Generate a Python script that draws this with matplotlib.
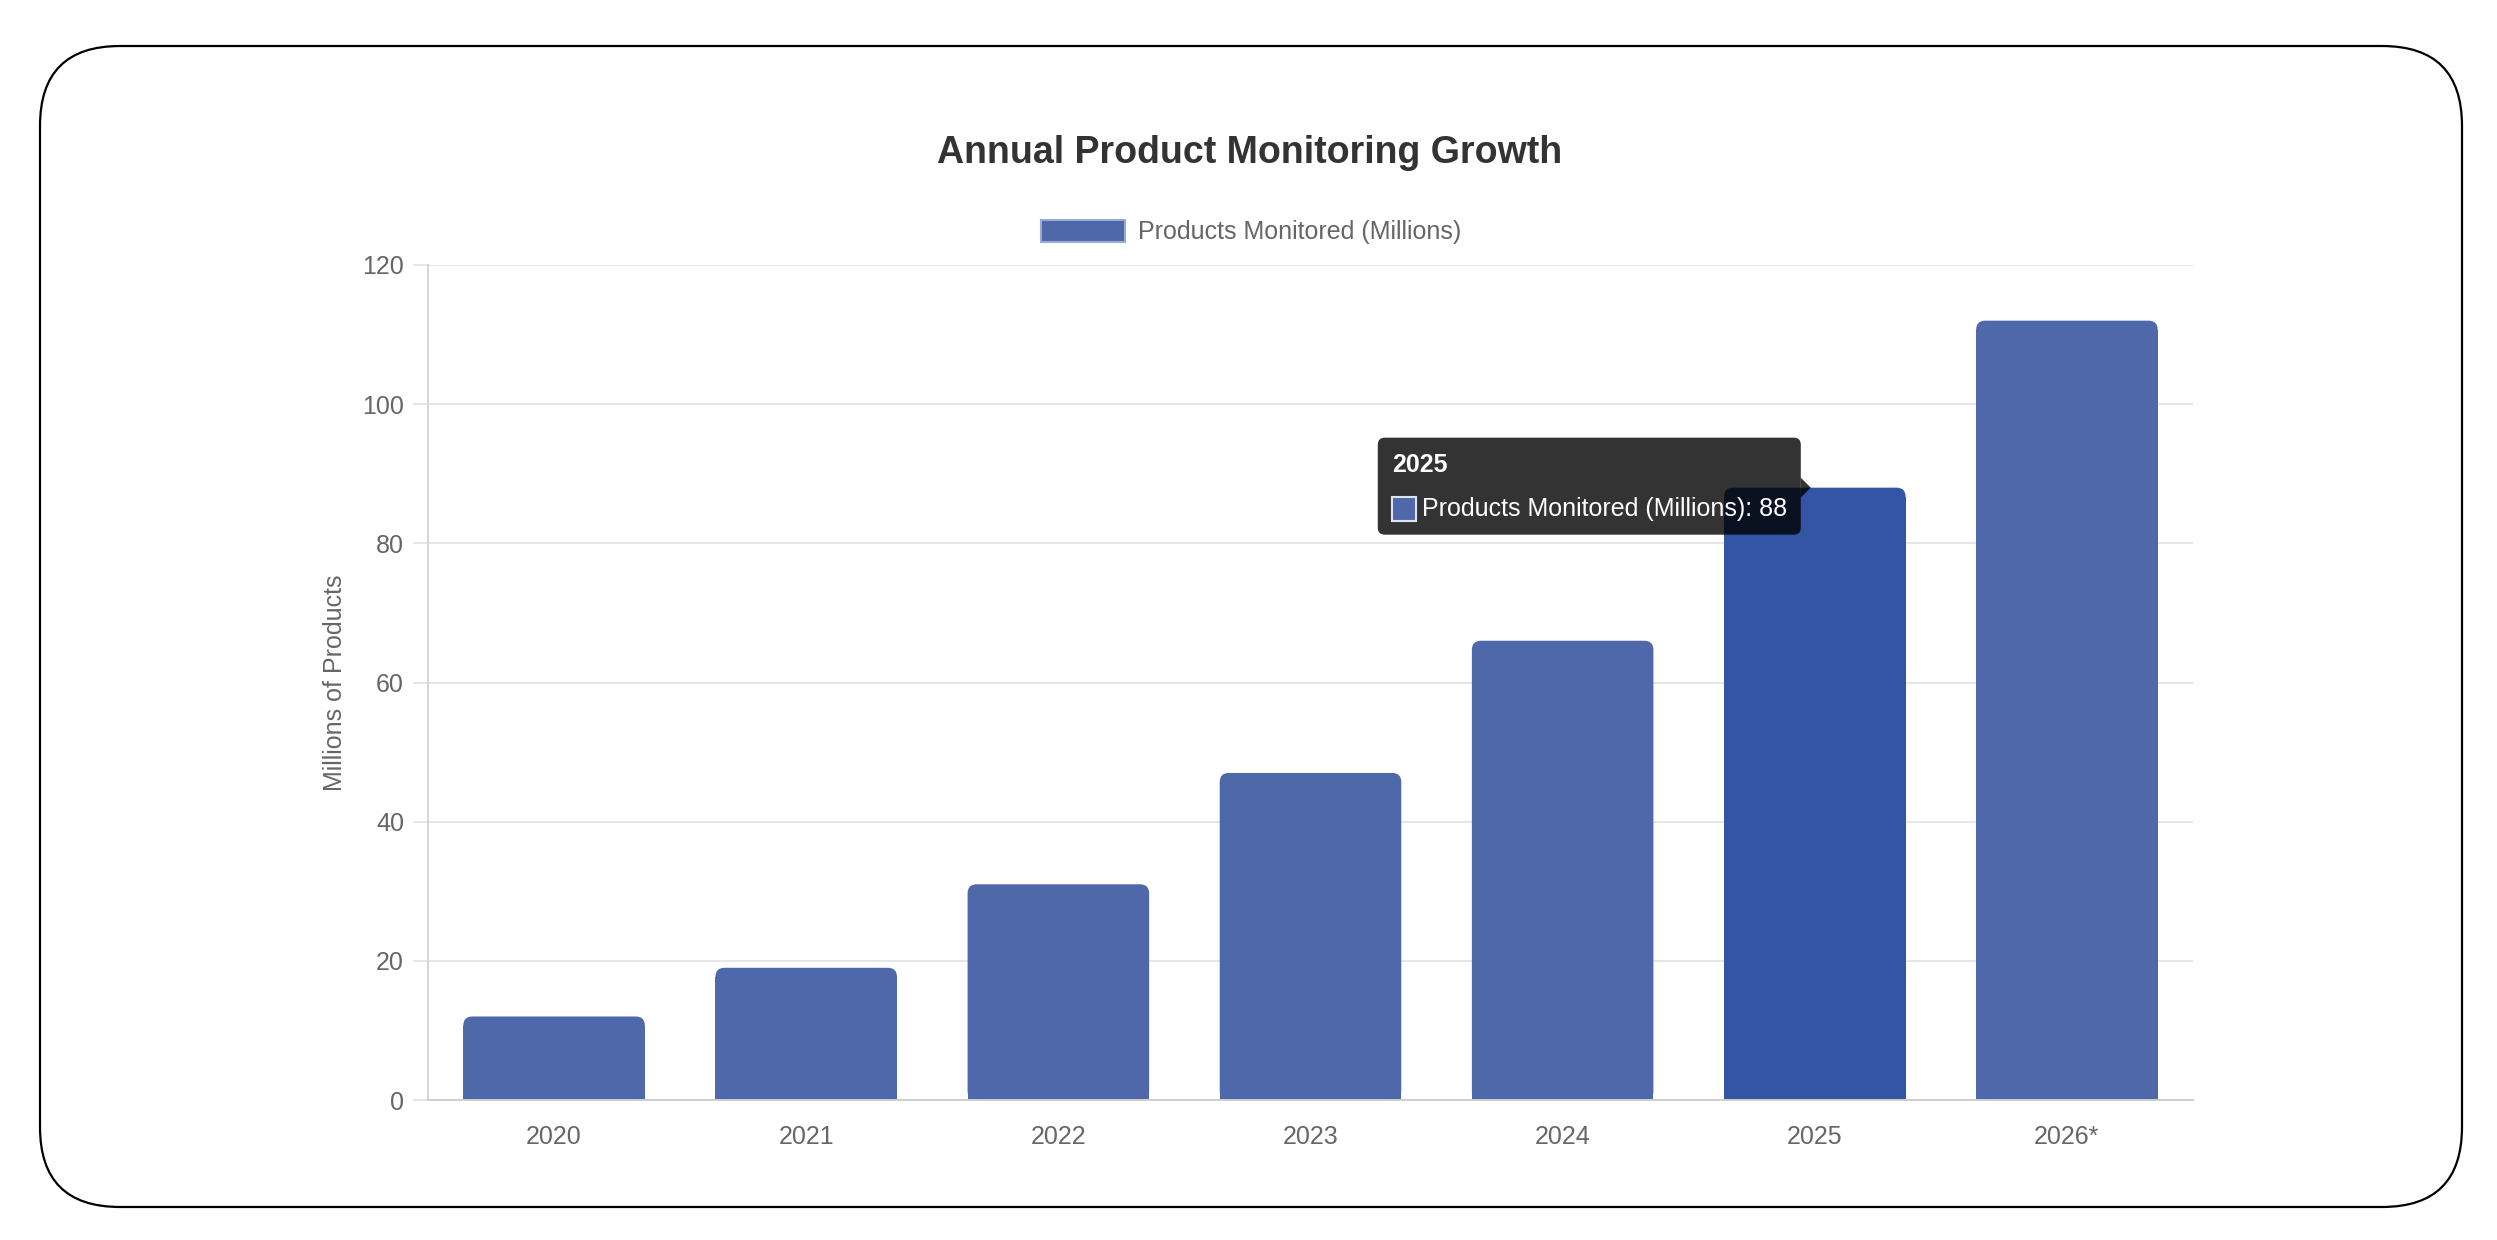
import matplotlib
matplotlib.use('Agg')
import matplotlib.pyplot as plt
from matplotlib.patches import FancyBboxPatch, Patch, Polygon, Rectangle
from matplotlib.transforms import IdentityTransform

# data
years = ['2020', '2021', '2022', '2023', '2024', '2025', '2026*']
products = [12, 19, 31, 47, 66, 88, 112]
series_label = 'Products Monitored (Millions)'
hover_idx = 5

bar_color = '#4f68aa'
hover_color = '#3455a4'

W, H = 2497, 1240
plt.rcParams['font.family'] = ['Liberation Sans', 'DejaVu Sans']

fig = plt.figure(figsize=(W / 100, H / 100), dpi=100)

def fx(x):
    return x / W

def fy(y):
    return 1 - y / H

# outer rounded frame
frame = FancyBboxPatch((fx(40), fy(1207)), (2462 - 40) / W, (1207 - 46) / H,
                       boxstyle='round,pad=0,rounding_size=%f' % (80 / W),
                       mutation_aspect=W / H, transform=fig.transFigure,
                       fill=False, ec='black', lw=1.6)
fig.add_artist(frame)

ax_l, ax_r, ax_t, ax_b = 428, 2193, 265, 1100
ax = fig.add_axes([fx(ax_l), fy(ax_b), (ax_r - ax_l) / W, (ax_b - ax_t) / H])

colors = [hover_color if i == hover_idx else bar_color for i in range(len(years))]
bars = ax.bar(range(len(years)), products, width=0.72, color=colors, zorder=2)
ax.set_xlim(-0.5, len(years) - 0.5)
ax.set_ylim(0, 120)

# rounded top corners for the bars
xpx = (ax_r - ax_l) / len(years)
ypx = (ax_b - ax_t) / 120
rad = 9
rx = rad / xpx
ry = rad / ypx
for rect in bars:
    x0, w, h = rect.get_x(), rect.get_width(), rect.get_height()
    rect.set_height(h - ry)
    top = FancyBboxPatch((x0, 0), w, h,
                         boxstyle='round,pad=0,rounding_size=%f' % rx,
                         mutation_aspect=ry / rx, fc=rect.get_facecolor(),
                         ec='none', zorder=2)
    ax.add_patch(top)

ax.set_yticks(range(0, 121, 20))
ax.set_xticks(range(len(years)))
ax.set_xticklabels(years)
ax.yaxis.grid(True, color='#e6e6e6', lw=1.4)
ax.set_axisbelow(True)
for s in ['top', 'right']:
    ax.spines[s].set_visible(False)
ax.spines['left'].set_color('#d6d6d6')
ax.spines['left'].set_linewidth(1.4)
ax.spines['bottom'].set_color('#cfcfcf')
ax.spines['bottom'].set_linewidth(1.4)
ax.tick_params(axis='y', length=10.8, width=1.4, color='#e6e6e6', pad=6.5,
               labelsize=18, labelcolor='#666666')
ax.tick_params(axis='x', length=0, pad=18, labelsize=18, labelcolor='#666666')

ax.set_ylabel('Millions of Products', fontsize=18, color='#666666')
ax.yaxis.set_label_coords((347 - ax_l) / (ax_r - ax_l), 0.5)

fig.text(fx(1250), fy(153), 'Annual Product Monitoring Growth', ha='center',
         va='center', fontsize=27, fontweight='bold', color='#333333')

leg_handle = Patch(fc=bar_color, ec='#9aaad4', lw=1.5)
fig.legend(handles=[leg_handle], labels=[series_label], loc='center',
           bbox_to_anchor=(fx(1251), fy(232)), frameon=False, fontsize=18,
           handlelength=3.36, handleheight=1.0, handletextpad=0.5,
           labelcolor='#666666')

# tooltip on the hovered bar
xa, ya = ax.transData.transform((hover_idx, products[hover_idx]))
tip = FancyBboxPatch((xa - 437, ya - 47), 423, 97,
                     boxstyle='round,pad=0,rounding_size=7',
                     transform=IdentityTransform(), fc=(0, 0, 0, 0.8),
                     ec='none', zorder=10)
fig.add_artist(tip)
caret = Polygon([(xa - 14, ya + 10), (xa - 4, ya), (xa - 14, ya - 10)],
                closed=True, transform=IdentityTransform(),
                fc=(0, 0, 0, 0.8), ec='none', zorder=10)
fig.add_artist(caret)
fig.text(xa - 423, ya + 23, years[hover_idx], transform=IdentityTransform(),
         ha='left', va='center', fontsize=18, fontweight='bold',
         color='white', zorder=11)
sq = Rectangle((xa - 423, ya - 33), 24, 24, transform=IdentityTransform(),
               fc=bar_color, ec='#dde3f2', lw=1.5, zorder=11)
fig.add_artist(sq)
fig.text(xa - 393, ya - 21, '%s: %d' % (series_label, products[hover_idx]),
         transform=IdentityTransform(), ha='left', va='center', fontsize=18,
         color='white', zorder=11)

fig.savefig('out.png', dpi=100, facecolor='white')
